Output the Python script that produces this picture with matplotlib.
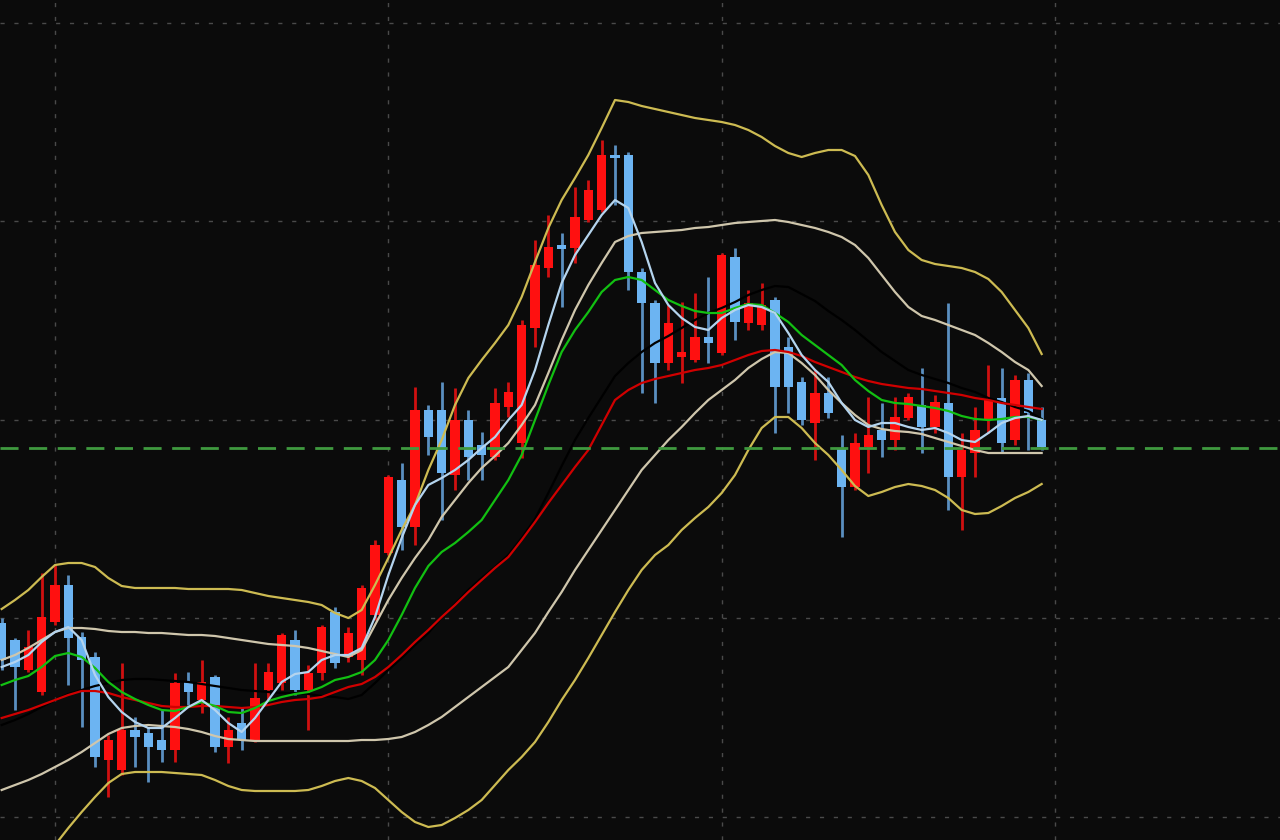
import numpy as np
import matplotlib
matplotlib.use("Agg")
import matplotlib.pyplot as plt

# ---------------- data ----------------
idx = list(range(-4, 75))

opens = [995, 978, 948, 926, 996, 1033, 981, 961, 858, 848, 888, 885, 878, 868, 936, 918, 941, 871, 895, 878,
         928, 935, 978, 928, 945, 1006, 961, 958, 1003, 1065, 1138, 1091, 1208, 1208, 1143, 1198, 1173, 1161, 1211, 1175,
         1290, 1350, 1373, 1370, 1398, 1408, 1463, 1463, 1346, 1315, 1255, 1261, 1258, 1281, 1265, 1361, 1295, 1293, 1318, 1271,
         1236, 1195, 1225, 1170, 1131, 1171, 1188, 1178, 1200, 1213, 1191, 1215, 1141, 1165, 1198, 1220, 1178, 1238, 1198]
highs = [1000, 980, 988, 1045, 1053, 1043, 986, 966, 883, 955, 901, 891, 908, 945, 946, 958, 943, 901, 911, 955,
         955, 985, 988, 953, 993, 1011, 991, 1033, 1078, 1143, 1155, 1231, 1213, 1236, 1230, 1208, 1186, 1230, 1236, 1298,
         1378, 1403, 1385, 1431, 1438, 1478, 1473, 1466, 1350, 1318, 1313, 1316, 1325, 1341, 1365, 1370, 1328, 1335, 1321, 1281,
         1241, 1248, 1241, 1183, 1185, 1221, 1215, 1221, 1225, 1250, 1223, 1315, 1185, 1211, 1253, 1250, 1243, 1245, 1211]
lows = [948, 908, 946, 923, 993, 933, 891, 851, 821, 843, 851, 836, 856, 856, 913, 905, 866, 855, 868, 876,
        918, 928, 923, 888, 938, 950, 956, 943, 998, 1063, 1068, 1073, 1163, 1098, 1128, 1138, 1138, 1158, 1201, 1160,
        1271, 1341, 1311, 1355, 1396, 1406, 1413, 1328, 1225, 1215, 1248, 1235, 1256, 1255, 1263, 1278, 1288, 1288, 1185, 1205,
        1193, 1158, 1200, 1081, 1128, 1145, 1161, 1168, 1198, 1165, 1185, 1108, 1088, 1141, 1185, 1165, 1173, 1168, 1168]
closes = [958, 951, 971, 1001, 1033, 980, 958, 861, 878, 888, 881, 871, 868, 935, 926, 936, 871, 888, 878, 920,
          946, 983, 928, 945, 991, 955, 985, 1030, 1073, 1141, 1091, 1208, 1181, 1145, 1198, 1161, 1163, 1215, 1226, 1293,
          1353, 1371, 1369, 1401, 1428, 1463, 1460, 1346, 1315, 1255, 1295, 1266, 1281, 1275, 1363, 1296, 1315, 1313, 1231, 1231,
          1198, 1225, 1205, 1131, 1175, 1183, 1178, 1201, 1221, 1191, 1216, 1141, 1168, 1188, 1218, 1175, 1238, 1205, 1171]

ma_short = [951, 956, 963, 976, 986, 991, 978, 943, 921, 906, 896, 890, 890, 900, 911, 918, 908, 895, 886, 900,
            918, 936, 944, 946, 958, 963, 963, 970, 1001, 1043, 1080, 1113, 1133, 1140, 1148, 1158, 1170, 1181, 1198, 1213,
            1248, 1293, 1335, 1363, 1383, 1403, 1418, 1410, 1376, 1335, 1313, 1300, 1291, 1288, 1300, 1308, 1313, 1311, 1305, 1285,
            1263, 1248, 1236, 1215, 1198, 1191, 1195, 1195, 1191, 1188, 1190, 1185, 1178, 1176, 1185, 1195, 1200, 1202, 1198]
ma_green = [933, 938, 942, 951, 962, 965, 961, 950, 936, 926, 919, 913, 908, 907, 911, 916, 912, 906, 905, 910,
            917, 921, 924, 926, 931, 938, 941, 946, 958, 978, 1003, 1030, 1052, 1066, 1075, 1086, 1098, 1118, 1138, 1163,
            1198, 1233, 1266, 1288, 1306, 1326, 1338, 1341, 1338, 1328, 1318, 1312, 1307, 1305, 1305, 1310, 1314, 1313, 1305, 1296,
            1283, 1273, 1263, 1253, 1238, 1227, 1218, 1215, 1214, 1212, 1210, 1207, 1202, 1199, 1198, 1199, 1201, 1201, 1198]
ma_red = [900, 904, 908, 913, 918, 923, 927, 927, 925, 921, 918, 915, 912, 911, 911, 912, 912, 911, 910, 911,
          913, 916, 918, 919, 921, 926, 931, 934, 941, 951, 963, 976, 988, 1001, 1013, 1026, 1038, 1050, 1061, 1078,
          1096, 1115, 1133, 1151, 1168, 1193, 1218, 1228, 1235, 1239, 1242, 1245, 1248, 1250, 1253, 1258, 1263, 1267, 1268, 1266,
          1262, 1256, 1251, 1246, 1241, 1237, 1234, 1232, 1230, 1229, 1227, 1225, 1223, 1220, 1218, 1215, 1213, 1211, 1209]
bb_mid = [893, 898, 904, 911, 918, 924, 928, 932, 935, 938, 939, 939, 938, 937, 936, 934, 932, 930, 928, 927,
          926, 925, 925, 924, 922, 921, 919, 923, 935, 948, 960, 973, 985, 1001, 1014, 1028, 1040, 1051, 1063, 1080,
          1099, 1125, 1152, 1178, 1200, 1221, 1242, 1255, 1266, 1275, 1282, 1290, 1298, 1305, 1310, 1316, 1323, 1328, 1332, 1331,
          1324, 1317, 1307, 1298, 1288, 1277, 1266, 1257, 1248, 1243, 1239, 1235, 1230, 1226, 1220, 1216, 1211, 1207, 1199]
bb_up1 = [958, 963, 970, 978, 986, 990, 990, 989, 987, 986, 986, 985, 985, 984, 983, 983, 982, 980, 978, 976,
          974, 973, 972, 970, 967, 964, 961, 968, 993, 1018, 1040, 1060, 1078, 1101, 1118, 1135, 1150, 1162, 1175, 1193,
          1213, 1245, 1278, 1308, 1333, 1355, 1376, 1382, 1385, 1386, 1387, 1388, 1390, 1391, 1393, 1395, 1396, 1397, 1398, 1396,
          1393, 1390, 1386, 1381, 1373, 1360, 1343, 1326, 1311, 1302, 1298, 1293, 1288, 1283, 1275, 1266, 1256, 1248, 1232]
bb_lo1 = [828, 833, 838, 844, 851, 858, 866, 875, 884, 890, 892, 893, 892, 891, 889, 886, 882, 879, 878, 877,
          877, 877, 877, 877, 877, 877, 877, 878, 878, 879, 881, 886, 893, 901, 911, 921, 931, 941, 951, 968,
          985, 1006, 1026, 1048, 1068, 1088, 1108, 1128, 1148, 1163, 1178, 1191, 1205, 1218, 1228, 1238, 1250, 1259, 1266, 1265,
          1255, 1243, 1228, 1215, 1203, 1193, 1189, 1187, 1186, 1184, 1180, 1176, 1172, 1168, 1165, 1165, 1165, 1165, 1165]
bb_up2 = [1009, 1018, 1028, 1041, 1053, 1055, 1055, 1051, 1040, 1032, 1030, 1030, 1030, 1030, 1029, 1029, 1029, 1029, 1028, 1025,
          1022, 1020, 1018, 1016, 1013, 1005, 1000, 1008, 1033, 1060, 1088, 1113, 1148, 1178, 1213, 1240, 1258, 1275, 1293, 1321,
          1356, 1390, 1418, 1440, 1463, 1490, 1518, 1516, 1512, 1509, 1506, 1503, 1500, 1498, 1496, 1493, 1488, 1481, 1472, 1465,
          1461, 1465, 1468, 1468, 1462, 1443, 1413, 1386, 1368, 1358, 1354, 1352, 1350, 1346, 1339, 1326, 1308, 1290, 1264]
bb_lo2 = [703, 721, 738, 756, 773, 790, 806, 821, 835, 844, 846, 846, 846, 845, 844, 843, 838, 832, 828, 827,
          827, 827, 827, 828, 832, 837, 840, 837, 830, 818, 806, 796, 791, 793, 800, 808, 818, 833, 848, 861,
          876, 896, 918, 938, 960, 983, 1006, 1028, 1048, 1063, 1073, 1088, 1100, 1111, 1125, 1143, 1168, 1190, 1201, 1201,
          1190, 1175, 1163, 1148, 1132, 1122, 1126, 1131, 1134, 1132, 1128, 1120, 1108, 1104, 1105, 1112, 1120, 1126, 1134]

ref_level = 1170
x_grid = [0, 25, 50, 75]
y_grid = [801.5, 1000, 1198.5, 1397, 1595.5]

# ---------------- figure ----------------
BG = "#0b0b0b"
UP_BODY = "#ff1010"
UP_WICK = "#d01010"
DN_BODY = "#6cb4f2"
DN_WICK = "#5a8fc0"

fig = plt.figure(figsize=(12.8, 8.4), dpi=100, facecolor=BG)
ax = fig.add_axes([0, 0, 1, 1])
ax.set_facecolor(BG)

ax.set_xlim(-4.125, 91.875)
ax.set_ylim(778, 1618)

ax.set_xticks(x_grid)
ax.set_yticks(y_grid)
ax.grid(True, color="#4a4a4a", linestyle=(0, (3, 7)), linewidth=1.0)
ax.tick_params(length=0, labelbottom=False, labelleft=False)
for s in ax.spines.values():
    s.set_visible(False)
ax.set_axisbelow(True)

x = np.array(idx)
o = np.array(opens, dtype=float)
c = np.array(closes, dtype=float)
h = np.array(highs, dtype=float)
l = np.array(lows, dtype=float)
up = c >= o

# wicks
ax.vlines(x[up], l[up], h[up], color=UP_WICK, linewidth=2.0, zorder=2)
ax.vlines(x[~up], l[~up], h[~up], color=DN_WICK, linewidth=2.0, zorder=2)
# bodies
body_lo = np.minimum(o, c)
body_h = np.maximum(np.abs(c - o), 2.5)
ax.bar(x[up], body_h[up], bottom=body_lo[up], width=0.72, color=UP_BODY, linewidth=0, zorder=3)
ax.bar(x[~up], body_h[~up], bottom=body_lo[~up], width=0.72, color=DN_BODY, linewidth=0, zorder=3)

# indicator lines
lw = 1.6
ax.plot(x, bb_up2, color="#cdbb52", linewidth=lw, zorder=4)
ax.plot(x, bb_lo2, color="#cdbb52", linewidth=lw, zorder=4)
ax.plot(x, bb_up1, color="#cfc6ac", linewidth=lw, zorder=4)
ax.plot(x, bb_lo1, color="#cfc6ac", linewidth=lw, zorder=4)
ax.plot(x, bb_mid, color="#000000", linewidth=lw, zorder=4)
ax.plot(x, ma_red, color="#d00000", linewidth=lw, zorder=4)
ax.plot(x, ma_green, color="#12c012", linewidth=lw, zorder=4)
ax.plot(x, ma_short, color="#b4d4ee", linewidth=lw, zorder=5)

ax.axhline(ref_level, color="#3f9a3f", linewidth=2.0, linestyle=(0, (6.5, 3.8)), zorder=6)

fig.savefig("out.png", dpi=100, facecolor=BG)
